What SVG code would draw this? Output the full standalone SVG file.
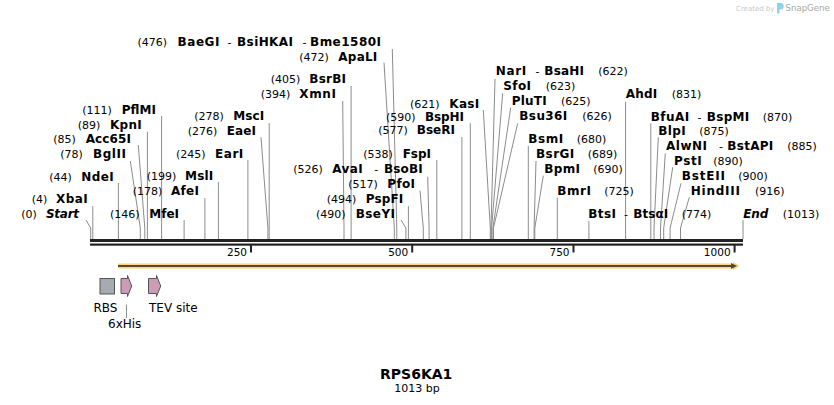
<svg xmlns="http://www.w3.org/2000/svg" width="834" height="405" viewBox="0 0 834 405">
<style>
text{font-family:"DejaVu Sans","Noto Sans",sans-serif;fill:#000}
.n{font-size:11px}
.e{font-size:12px;font-weight:bold}
.ei{font-size:12px;font-weight:bold;font-style:italic}
.d{font-size:11px}
.ln{fill:none;stroke:#8c8c8c;stroke-width:1}
.tk{font-size:10.5px;text-anchor:end}
.ft{font-size:12px}
.bb{fill:#222}
.tick{stroke:#222;stroke-width:2}
.feat{stroke:#555;stroke-width:1}
</style>
<rect width="834" height="405" fill="#fff"/>
<g id="watermark">
<text x="736" y="10.5" style="font-size:7px;fill:#c8c8c8">Created by</text>
<path d="M777,3 h3.5 a3,3 0 0 1 0,6.5 h-1 v4 h-2.5 z" fill="#8fd0ef"/>
<text x="785.5" y="11" style="font-size:8.6px;fill:#a8a8a8">SnapGene</text>
</g>
<g id="connectors">
<path class="ln" d="M86,220 L90.7,228 V239"/>
<path class="ln" d="M92.8,206 V239"/>
<path class="ln" d="M118.4,183 V239"/>
<path class="ln" d="M130.3,161 L140.3,228 V239"/>
<path class="ln" d="M138.3,145 L144.8,228 V239"/>
<path class="ln" d="M147.4,131.7 V239"/>
<path class="ln" d="M161.6,116 V239"/>
<path class="ln" d="M184.1,220 V239"/>
<path class="ln" d="M204.9,198 V239"/>
<path class="ln" d="M218.4,182 V239"/>
<path class="ln" d="M247.9,160 V239"/>
<path class="ln" d="M261,137.3 L267.9,228 V239"/>
<path class="ln" d="M269.2,123 V239"/>
<path class="ln" d="M392.3,49 L396.8,228 V239"/>
<path class="ln" d="M384,62.7 L394.3,228 V239"/>
<path class="ln" d="M351.1,86 V239"/>
<path class="ln" d="M342.7,101 L344,228 V239"/>
<path class="ln" d="M483.3,110 L490.3,228 V239"/>
<path class="ln" d="M470.3,123.3 V239"/>
<path class="ln" d="M461.9,137 V239"/>
<path class="ln" d="M436.8,160 V239"/>
<path class="ln" d="M427.7,176.7 L429.1,228 V239"/>
<path class="ln" d="M420,190.7 L423.3,228 V239"/>
<path class="ln" d="M408.4,206 V239"/>
<path class="ln" d="M401,220 L405.9,228 V239"/>
<path class="ln" d="M495,79 L491,228 V239"/>
<path class="ln" d="M502.7,93.3 L491.6,228 V239"/>
<path class="ln" d="M510.7,107.7 L492.9,228 V239"/>
<path class="ln" d="M517.7,123.3 L493.5,228 V239"/>
<path class="ln" d="M528.3,145.7 V239"/>
<path class="ln" d="M536,161 L534.1,228 V239"/>
<path class="ln" d="M543.3,175.7 L534.8,228 V239"/>
<path class="ln" d="M557.3,197.7 V239"/>
<path class="ln" d="M588.9,221 V239"/>
<path class="ln" d="M625.6,101.7 V239"/>
<path class="ln" d="M650.8,123.3 V239"/>
<path class="ln" d="M658.3,137.3 L654,228 V239"/>
<path class="ln" d="M665.3,153.3 L660.5,228 V239"/>
<path class="ln" d="M672.7,167.3 L663.7,228 V239"/>
<path class="ln" d="M681,183.3 L670.1,228 V239"/>
<path class="ln" d="M689.3,197.3 L680.5,228 V239"/>
<path class="ln" d="M743,220 V239"/>
<path class="ln" d="M126.5,304.5 V318"/>
</g>
<g id="backbone">
<rect class="bb" x="90" y="239" width="653" height="3"/>
<rect class="bb" x="90" y="243.5" width="653" height="2.2"/>
<line class="tick" x1="251" y1="245" x2="251" y2="252.5"/>
<line class="tick" x1="412.2" y1="245" x2="412.2" y2="252.5"/>
<line class="tick" x1="573.5" y1="245" x2="573.5" y2="252.5"/>
<line class="tick" x1="734.6" y1="245" x2="734.6" y2="252.5"/>
<text class="tk" x="247" y="256">250</text>
<text class="tk" x="408.2" y="256">500</text>
<text class="tk" x="569.5" y="256">750</text>
<text class="tk" x="730.6" y="256">1000</text>
</g>
<g id="orf">
<path d="M118,263.5 H733 V261.8 L739.5,266 L733,270.2 V268.5 H118 Z" fill="#fdd283"/>
<line x1="118" y1="266" x2="732" y2="266" stroke="#54483a" stroke-width="2"/>
<path d="M731,263 L737,266 L731,269 Z" fill="#54483a"/>
</g>
<g id="RBS">
<rect class="feat" x="100" y="278.5" width="14.5" height="15.5" fill="#a6abb2"/>
<text class="ft" x="93.5" y="312">RBS</text>
</g>
<g id="6xHis">
<path class="feat" d="M121,278.5 H127.5 V275.5 L131.7,286 L127.5,296.5 V293.5 H121 Z" fill="#cc9bb6"/>
<text class="ft" x="108" y="328">6xHis</text>
</g>
<g id="TEV">
<path class="feat" d="M148.5,278.5 H156.5 V275.5 L160.7,286 L156.5,296.5 V293.5 H148.5 Z" fill="#cc9bb6"/>
<text class="ft" x="149" y="312">TEV site</text>
</g>
<g id="title">
<text x="416.2" y="378.5" style="font-size:14px;font-weight:bold;text-anchor:middle">RPS6KA1</text>
<text x="417" y="392" style="font-size:11px;text-anchor:middle">1013 bp</text>
</g>
<g id="Start"><text class="n" x="21.3" y="218.3">(0)</text><text class="ei" x="46" y="218.3" textLength="33">Start</text></g>
<g id="XbaI"><text class="n" x="31.7" y="203.3">(4)</text><text class="e" x="56" y="203.3" textLength="31.7">XbaI</text></g>
<g id="NdeI"><text class="n" x="49.3" y="181">(44)</text><text class="e" x="81.3" y="181" textLength="32.4">NdeI</text></g>
<g id="BglII"><text class="n" x="60.3" y="158.3">(78)</text><text class="e" x="93" y="158.3" textLength="33">BglII</text></g>
<g id="Acc65I"><text class="n" x="53.3" y="142.7">(85)</text><text class="e" x="85.7" y="142.7" textLength="45.3">Acc65I</text></g>
<g id="KpnI"><text class="n" x="77.7" y="129.3">(89)</text><text class="e" x="110" y="129.3" textLength="31.7">KpnI</text></g>
<g id="PflMI"><text class="n" x="82.3" y="114">(111)</text><text class="e" x="121.7" y="114" textLength="34.3">PflMI</text></g>
<g id="MfeI"><text class="n" x="110" y="218.3">(146)</text><text class="e" x="149.3" y="218.3" textLength="29.7">MfeI</text></g>
<g id="AfeI"><text class="n" x="132.7" y="195.3">(178)</text><text class="e" x="171" y="195.3" textLength="28">AfeI</text></g>
<g id="MslI"><text class="n" x="146.7" y="180">(199)</text><text class="e" x="185" y="180" textLength="28.3">MslI</text></g>
<g id="EarI"><text class="n" x="176" y="158.3">(245)</text><text class="e" x="215" y="158.3" textLength="28.3">EarI</text></g>
<g id="EaeI"><text class="n" x="187.7" y="135">(276)</text><text class="e" x="226.7" y="135" textLength="29.3">EaeI</text></g>
<g id="MscI"><text class="n" x="194.3" y="120">(278)</text><text class="e" x="233.3" y="120" textLength="31">MscI</text></g>
<g id="BaeGI"><text class="n" x="137.5" y="46">(476)</text><text class="e" x="177.5" y="46" textLength="42">BaeGI</text><text class="d" x="227.5" y="46">-</text><text class="e" x="237" y="46" textLength="56">BsiHKAI</text><text class="d" x="302.5" y="46">-</text><text class="e" x="310" y="46" textLength="71">Bme1580I</text></g>
<g id="ApaLI"><text class="n" x="299.3" y="60.7">(472)</text><text class="e" x="338.3" y="60.7" textLength="39">ApaLI</text></g>
<g id="BsrBI"><text class="n" x="270.7" y="83.3">(405)</text><text class="e" x="309.3" y="83.3" textLength="36.7">BsrBI</text></g>
<g id="XmnI"><text class="n" x="260.7" y="98.3">(394)</text><text class="e" x="299.3" y="98.3" textLength="36.7">XmnI</text></g>
<g id="KasI"><text class="n" x="410" y="108.3">(621)</text><text class="e" x="449.3" y="108.3" textLength="30">KasI</text></g>
<g id="BspHI"><text class="n" x="386" y="120.7">(590)</text><text class="e" x="425" y="120.7" textLength="39">BspHI</text></g>
<g id="BseRI"><text class="n" x="378.3" y="134">(577)</text><text class="e" x="416.7" y="134" textLength="38.3">BseRI</text></g>
<g id="FspI"><text class="n" x="363.3" y="158.3">(538)</text><text class="e" x="402.7" y="158.3" textLength="28.3">FspI</text></g>
<g id="AvaI"><text class="n" x="293.3" y="173.3">(526)</text><text class="e" x="332.3" y="173.3" textLength="30.4">AvaI</text><text class="d" x="374.3" y="173.3">-</text><text class="e" x="384" y="173.3" textLength="38.7">BsoBI</text></g>
<g id="PfoI"><text class="n" x="348.3" y="188.3">(517)</text><text class="e" x="387.3" y="188.3" textLength="27.7">PfoI</text></g>
<g id="PspFI"><text class="n" x="326.7" y="203.3">(494)</text><text class="e" x="365.7" y="203.3" textLength="37.6">PspFI</text></g>
<g id="BseYI"><text class="n" x="316" y="218.3">(490)</text><text class="e" x="355.7" y="218.3" textLength="39.3">BseYI</text></g>
<g id="NarI"><text class="e" x="495.7" y="75" textLength="30.6">NarI</text><text class="d" x="535.5" y="75">-</text><text class="e" x="544.3" y="75" textLength="39.7">BsaHI</text><text class="n" x="598.3" y="75">(622)</text></g>
<g id="SfoI"><text class="e" x="503.3" y="90" textLength="27.7">SfoI</text><text class="n" x="545.7" y="90">(623)</text></g>
<g id="PluTI"><text class="e" x="511.7" y="105" textLength="35">PluTI</text><text class="n" x="561" y="105">(625)</text></g>
<g id="Bsu36I"><text class="e" x="519.3" y="120" textLength="48">Bsu36I</text><text class="n" x="582.3" y="120">(626)</text></g>
<g id="BsmI"><text class="e" x="528.3" y="143.3" textLength="35">BsmI</text><text class="n" x="576.7" y="143.3">(680)</text></g>
<g id="BsrGI"><text class="e" x="536" y="158.3" textLength="38.3">BsrGI</text><text class="n" x="587.7" y="158.3">(689)</text></g>
<g id="BpmI"><text class="e" x="544.3" y="173.3" textLength="35.7">BpmI</text><text class="n" x="593.3" y="173.3">(690)</text></g>
<g id="BmrI"><text class="e" x="557.3" y="195" textLength="33.7">BmrI</text><text class="n" x="604.3" y="195">(725)</text></g>
<g id="BtsI"><text class="e" x="588.3" y="218.3" textLength="27.7">BtsI</text><text class="d" x="624" y="218.3">-</text><text class="e" x="633.3" y="218.3" textLength="35">BtsαI</text><text class="n" x="681.7" y="218.3">(774)</text></g>
<g id="AhdI"><text class="e" x="625.7" y="98.3" textLength="31.6">AhdI</text><text class="n" x="671.7" y="98.3">(831)</text></g>
<g id="BfuAI"><text class="e" x="650.7" y="120.7" textLength="38.6">BfuAI</text><text class="d" x="697.5" y="120.7">-</text><text class="e" x="706.7" y="120.7" textLength="42.6">BspMI</text><text class="n" x="762.7" y="120.7">(870)</text></g>
<g id="BlpI"><text class="e" x="658.3" y="135" textLength="27.5">BlpI</text><text class="n" x="699.3" y="135">(875)</text></g>
<g id="AlwNI"><text class="e" x="666" y="150" textLength="41">AlwNI</text><text class="d" x="719" y="150">-</text><text class="e" x="727.3" y="150" textLength="46">BstAPI</text><text class="n" x="787.3" y="150">(885)</text></g>
<g id="PstI"><text class="e" x="674" y="165" textLength="27.7">PstI</text><text class="n" x="713.3" y="165">(890)</text></g>
<g id="BstEII"><text class="e" x="681.7" y="180" textLength="43.3">BstEII</text><text class="n" x="738.3" y="180">(900)</text></g>
<g id="HindIII"><text class="e" x="690.7" y="195" textLength="49.3">HindIII</text><text class="n" x="755" y="195">(916)</text></g>
<g id="End"><text class="ei" x="743.3" y="218" textLength="25">End</text><text class="n" x="782.7" y="218">(1013)</text></g>
</svg>
